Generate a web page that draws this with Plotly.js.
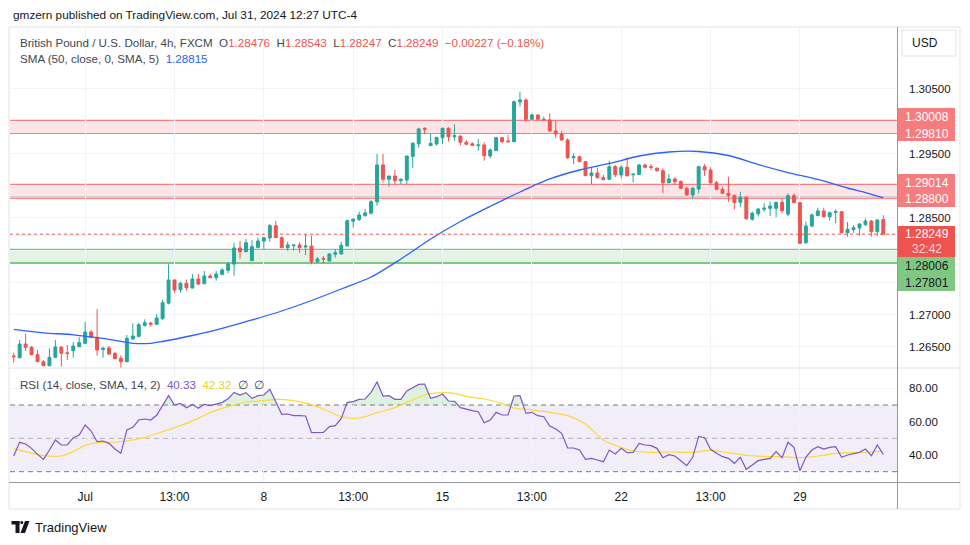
<!DOCTYPE html>
<html><head><meta charset="utf-8">
<script src="https://cdn.plot.ly/plotly-3.0.1.min.js"></script>
<style>html,body{margin:0;padding:0;background:#fff;} #chart{width:970px;height:545px;}</style>
</head><body><div id="chart"></div>
<script>
// ---- DATA ----
const openP = [1.26360,1.26334,1.26546,1.26495,1.26381,1.26272,1.26210,1.26340,1.26500,1.26410,1.26443,1.26505,1.26557,1.26733,1.26650,1.26460,1.26485,1.26400,1.26325,1.26272,1.26625,1.26665,1.26835,1.26872,1.26852,1.26940,1.27180,1.27539,1.27390,1.27488,1.27415,1.27554,1.27481,1.27601,1.27574,1.27625,1.27690,1.27785,1.28035,1.27978,1.27838,1.28045,1.28143,1.28190,1.28381,1.28195,1.28040,1.28071,1.28081,1.28050,1.28066,1.27822,1.27875,1.27833,1.27937,1.27942,1.28066,1.28450,1.28475,1.28536,1.28575,1.28750,1.29322,1.29100,1.29151,1.29078,1.29090,1.29455,1.29650,1.29891,1.29621,1.29647,1.29745,1.29891,1.29760,1.29771,1.29674,1.29650,1.29621,1.29632,1.29461,1.29543,1.29745,1.29694,1.29683,1.30300,1.30329,1.30030,1.30097,1.30030,1.30019,1.29849,1.29802,1.29709,1.29435,1.29450,1.29373,1.29156,1.29198,1.29125,1.29100,1.29295,1.29167,1.29286,1.29170,1.29175,1.29322,1.29295,1.29270,1.29233,1.29047,1.29105,1.29063,1.28960,1.28857,1.28950,1.29295,1.29244,1.29047,1.28945,1.28883,1.28846,1.28743,1.28821,1.28480,1.28565,1.28635,1.28650,1.28650,1.28743,1.28560,1.28846,1.28737,1.28117,1.28376,1.28536,1.28609,1.28520,1.28588,1.28598,1.28272,1.28319,1.28345,1.28400,1.28453,1.28288,1.28476];
const highP = [1.26412,1.26609,1.26702,1.26515,1.26453,1.26298,1.26480,1.26609,1.26505,1.26531,1.26577,1.26650,1.26888,1.26764,1.27089,1.26505,1.26515,1.26422,1.26371,1.26686,1.26867,1.26877,1.26929,1.26888,1.27012,1.27229,1.27782,1.27545,1.27512,1.27545,1.27632,1.27632,1.27678,1.27632,1.27678,1.27725,1.27818,1.28117,1.28143,1.28174,1.28159,1.28195,1.28205,1.28407,1.28453,1.28221,1.28132,1.28085,1.28123,1.28252,1.28226,1.27895,1.27911,1.27953,1.28015,1.28132,1.28474,1.28490,1.28598,1.28640,1.28779,1.29492,1.29492,1.29155,1.29244,1.29116,1.29465,1.29674,1.29900,1.29906,1.29813,1.29755,1.29900,1.29906,1.29953,1.29775,1.29709,1.29674,1.29725,1.29674,1.29581,1.29760,1.29760,1.29787,1.30319,1.30458,1.30356,1.30123,1.30108,1.30071,1.30123,1.30004,1.29849,1.29736,1.29503,1.29466,1.29380,1.29286,1.29280,1.29167,1.29388,1.29322,1.29322,1.29441,1.29185,1.29337,1.29337,1.29337,1.29286,1.29270,1.29182,1.29131,1.29084,1.28985,1.28976,1.29311,1.29337,1.29286,1.29074,1.28985,1.29140,1.28867,1.28908,1.28830,1.28598,1.28650,1.28728,1.28753,1.28753,1.28805,1.28883,1.28883,1.28753,1.28443,1.28573,1.28660,1.28660,1.28598,1.28635,1.28605,1.28438,1.28391,1.28418,1.28495,1.28469,1.28484,1.28543];
const lowP = [1.26257,1.26325,1.26438,1.26371,1.26265,1.26205,1.26200,1.26325,1.26195,1.26298,1.26334,1.26495,1.26546,1.26635,1.26365,1.26334,1.26376,1.26309,1.26159,1.26262,1.26609,1.26650,1.26815,1.26815,1.26841,1.26919,1.27160,1.27342,1.27342,1.27373,1.27404,1.27457,1.27472,1.27570,1.27528,1.27613,1.27643,1.27605,1.27869,1.27968,1.27833,1.28030,1.28004,1.28132,1.28190,1.28035,1.27993,1.27993,1.27962,1.27926,1.27782,1.27807,1.27787,1.27829,1.27884,1.27937,1.28060,1.28350,1.28453,1.28520,1.28557,1.28691,1.29047,1.28985,1.29027,1.29022,1.29027,1.29271,1.29590,1.29798,1.29615,1.29621,1.29643,1.29683,1.29694,1.29627,1.29627,1.29616,1.29543,1.29388,1.29426,1.29540,1.29658,1.29670,1.29674,1.30226,1.29993,1.30015,1.30024,1.30004,1.29838,1.29736,1.29698,1.29415,1.29337,1.29364,1.29151,1.29022,1.29115,1.29085,1.29090,1.29131,1.29115,1.29142,1.29053,1.29162,1.29270,1.29244,1.29218,1.28883,1.29038,1.29012,1.28950,1.28847,1.28790,1.28883,1.29151,1.29012,1.28934,1.28872,1.28753,1.28635,1.28666,1.28470,1.28458,1.28521,1.28598,1.28531,1.28511,1.28573,1.28531,1.28728,1.28097,1.28100,1.28355,1.28531,1.28515,1.28458,1.28418,1.28262,1.28210,1.28272,1.28226,1.28376,1.28210,1.28221,1.28247];
const closeP = [1.26350,1.26546,1.26495,1.26381,1.26272,1.26210,1.26340,1.26500,1.26402,1.26400,1.26515,1.26567,1.26733,1.26650,1.26453,1.26480,1.26391,1.26319,1.26272,1.26635,1.26671,1.26846,1.26877,1.26852,1.26950,1.27187,1.27539,1.27384,1.27488,1.27419,1.27554,1.27477,1.27601,1.27574,1.27632,1.27694,1.27787,1.28035,1.27978,1.28117,1.28055,1.28143,1.28195,1.28381,1.28195,1.28040,1.28081,1.28081,1.28040,1.28066,1.27822,1.27864,1.27862,1.27942,1.27962,1.28077,1.28458,1.28484,1.28547,1.28578,1.28753,1.29322,1.29100,1.29151,1.29078,1.29100,1.29461,1.29658,1.29880,1.29875,1.29658,1.29751,1.29891,1.29760,1.29776,1.29674,1.29643,1.29627,1.29632,1.29466,1.29554,1.29745,1.29683,1.29683,1.30303,1.30329,1.30030,1.30097,1.30030,1.30019,1.29849,1.29802,1.29709,1.29435,1.29450,1.29373,1.29156,1.29198,1.29125,1.29094,1.29295,1.29170,1.29286,1.29156,1.29180,1.29322,1.29286,1.29286,1.29233,1.29047,1.29105,1.29063,1.28960,1.28857,1.28960,1.29295,1.29244,1.29047,1.28945,1.28883,1.28846,1.28737,1.28821,1.28490,1.28573,1.28640,1.28655,1.28686,1.28743,1.28613,1.28846,1.28737,1.28108,1.28376,1.28547,1.28609,1.28520,1.28582,1.28598,1.28272,1.28325,1.28350,1.28407,1.28453,1.28288,1.28469,1.28249];

const smaIdx = [0,5,10,15,20,23,25,30,35,40,45,50,55,60,65,70,75,80,85,90,95,100,105,110,115,120,125,130,135,140,143,146];
const smaVal = [1.26774,1.26720,1.26689,1.26632,1.26557,1.26557,1.26585,1.26678,1.26787,1.26919,1.27058,1.27221,1.27399,1.27585,1.27864,1.28174,1.28446,1.28681,1.28903,1.29105,1.29244,1.29345,1.29461,1.29523,1.29531,1.29469,1.29329,1.29205,1.29097,1.28965,1.28895,1.28815];

const rsi = [39.4,47.6,46.6,44.0,40.4,37.4,43.0,49.0,46.0,46.0,50.4,52.0,58.0,54.4,48.0,48.4,47.0,43.6,41.0,55.0,56.6,61.0,61.6,61.0,63.8,70.0,75.6,70.0,71.0,68.4,70.4,68.0,70.4,69.6,70.4,71.6,73.8,77.6,76.0,77.4,74.0,75.6,76.0,79.4,72.0,64.4,64.6,63.6,63.6,63.4,53.4,53.6,53.6,57.0,57.6,62.0,71.6,72.0,73.4,73.6,77.6,84.0,75.4,75.6,73.4,73.4,78.4,80.4,82.4,82.6,74.0,75.0,76.6,72.4,72.2,68.4,67.4,66.6,66.0,59.4,61.0,65.6,64.0,64.0,75.4,75.6,65.0,65.6,63.6,63.0,57.4,55.6,53.0,44.2,44.2,43.0,37.4,38.0,37.0,36.0,43.0,40.6,44.0,41.4,41.6,47.0,46.0,45.6,44.0,38.4,40.2,39.4,36.6,33.6,38.6,51.2,50.4,43.4,41.0,39.0,38.0,35.0,38.6,31.4,34.0,36.6,37.4,38.0,42.0,38.4,47.6,44.6,30.6,38.6,43.0,45.0,43.6,44.6,45.0,38.6,40.0,40.6,41.6,43.6,39.6,46.0,40.33];

const rsiMaIdx = [0,2,5,8,10,12,14,16,19,22,25,28,31,33,36,39,42,44,47,50,53,55,58,61,64,66,69,72,74,76,79,82,84,87,90,93,96,99,101,104,107,110,114,117,120,123,126,129,132,135,138,141,144,146];
const rsiMaVal = [43.8,42.0,39.6,39.4,42.0,45.8,47.4,47.6,48.4,50.6,54.0,57.6,62.0,65.5,69.0,71.8,72.6,73.4,72.6,70.2,66.0,63.0,62.2,65.4,68.4,71.6,76.0,77.4,77.0,75.2,73.6,71.0,68.2,67.0,65.6,63.6,58.6,49.0,45.8,42.4,41.6,41.8,41.6,42.8,41.4,39.8,39.2,39.0,38.4,39.4,41.0,41.4,41.8,42.32];

const tickIdx = [12,27,42,57,72,87,102,117,132];
const tickText = ['Jul','13:00','8','13:00','15','13:00','22','13:00','29'];
const priceTicks = [1.265,1.270,1.275,1.280,1.285,1.290,1.295,1.300,1.305];
// labels covered by the level boxes on the price scale are not shown
const priceTickText = ['1.26500','1.27000','','','1.28500','','1.29500','','1.30500'];
const rsiTicks = [40,60,80];

const resistanceHi = [1.30008, 1.29810];
const resistanceLo = [1.29014, 1.28800];
const extraLine = 1.28826;
const support = [1.28006, 1.27801];
const lastPrice = 1.28249;
const countdown = '32:42';

// ---- helpers for layout placement (pixels -> paper) ----
const W = 970, H = 545, ML = 10, MR = 73, MT = 27, MB = 63;
const PW = W - ML - MR, PH = H - MT - MB;
const X = p => (p - ML) / PW;
const Y = p => (H - MB - p) / PH;

const FONT = 'Liberation Sans, Arial, sans-serif';
const UP = '#26a69a', DN = '#ef5350';

const idx = closeP.map((_, i) => i);
const rsiAbove = rsi.map(v => Math.max(v, 70));

const traces = [
  {type:'candlestick', x:idx, open:openP, high:highP, low:lowP, close:closeP,
   increasing:{line:{color:UP, width:1}, fillcolor:UP},
   decreasing:{line:{color:DN, width:1}, fillcolor:DN},
   whiskerwidth:0, hoverinfo:'skip', xaxis:'x', yaxis:'y'},
  {type:'scatter', mode:'lines', x:smaIdx, y:smaVal, line:{color:'#2962ff', width:1.3, shape:'spline', smoothing:0.8},
   hoverinfo:'skip', xaxis:'x', yaxis:'y'},
  {type:'scatter', mode:'lines', x:idx, y:idx.map(()=>70), line:{width:0, color:'rgba(0,0,0,0)'}, hoverinfo:'skip', xaxis:'x', yaxis:'y2'},
  {type:'scatter', mode:'lines', x:idx, y:rsiAbove, line:{width:0, color:'rgba(0,0,0,0)'}, fill:'tonexty', fillcolor:'rgba(76,175,80,0.18)', hoverinfo:'skip', xaxis:'x', yaxis:'y2'},
  {type:'scatter', mode:'lines', x:rsiMaIdx, y:rsiMaVal, line:{color:'#fdd835', width:1.2, shape:'spline', smoothing:0.8}, hoverinfo:'skip', xaxis:'x', yaxis:'y2'},
  {type:'scatter', mode:'lines', x:idx, y:rsi, line:{color:'#7e57c2', width:1.2}, hoverinfo:'skip', xaxis:'x', yaxis:'y2'}
];

const RED_LINE = '#f77c80', RED_FILL = 'rgba(242,54,69,0.13)';
const GRN_LINE = '#81c784', GRN_FILL = 'rgba(76,175,80,0.15)';
const FRAME = '#e0e3eb', AXL = '#9598a1';

function hline(yv, color, width, dash, yref, layer) {
  return {type:'line', xref:'paper', x0:0, x1:1, yref:yref||'y', y0:yv, y1:yv,
          line:{color:color, width:width, dash:dash||'solid'}, layer:layer||'between'};
}
const shapes = [
  {type:'rect', xref:'paper', x0:0, x1:1, yref:'y', y0:resistanceHi[1], y1:resistanceHi[0], fillcolor:RED_FILL, line:{width:0}, layer:'between'},
  hline(resistanceHi[0], RED_LINE, 2), hline(resistanceHi[1], RED_LINE, 1),
  {type:'rect', xref:'paper', x0:0, x1:1, yref:'y', y0:resistanceLo[1], y1:resistanceLo[0], fillcolor:RED_FILL, line:{width:0}, layer:'between'},
  hline(resistanceLo[0], RED_LINE, 2), hline(resistanceLo[1], RED_LINE, 1), hline(extraLine, '#b2b5be', 1),
  {type:'rect', xref:'paper', x0:0, x1:1, yref:'y', y0:support[1], y1:support[0], fillcolor:GRN_FILL, line:{width:0}, layer:'between'},
  hline(support[0], GRN_LINE, 2), hline(support[1], GRN_LINE, 2),
  hline(lastPrice, DN, 1, 'dot', 'y', 'above'),
  // RSI band
  {type:'rect', xref:'paper', x0:0, x1:1, yref:'y2', y0:30, y1:70, fillcolor:'rgba(126,87,194,0.1)', line:{width:0}, layer:'between'},
  hline(70, '#787b86', 1, '5px,4px', 'y2'), hline(50, 'rgba(120,123,134,0.5)', 1, '5px,4px', 'y2'), hline(30, '#787b86', 1, '5px,4px', 'y2'),
  // frame
  {type:'line', xref:'paper', yref:'paper', x0:X(9), x1:X(960), y0:Y(27), y1:Y(27), line:{color:FRAME, width:1}, layer:'above'},
  {type:'line', xref:'paper', yref:'paper', x0:X(9), x1:X(9), y0:Y(27), y1:Y(509), line:{color:FRAME, width:1}, layer:'above'},
  {type:'line', xref:'paper', yref:'paper', x0:X(960), x1:X(960), y0:Y(27), y1:Y(509), line:{color:FRAME, width:1}, layer:'above'},
  {type:'line', xref:'paper', yref:'paper', x0:X(9), x1:X(960), y0:Y(509), y1:Y(509), line:{color:FRAME, width:1}, layer:'above'},
  {type:'line', xref:'paper', yref:'paper', x0:X(9), x1:X(960), y0:Y(368), y1:Y(368), line:{color:FRAME, width:1}, layer:'above'},
  {type:'line', xref:'paper', yref:'paper', x0:X(9), x1:X(960), y0:Y(482.5), y1:Y(482.5), line:{color:AXL, width:1}, layer:'above'},
  {type:'line', xref:'paper', yref:'paper', x0:X(897.5), x1:X(897.5), y0:Y(27), y1:Y(509), line:{color:AXL, width:1}, layer:'above'},
  // USD box
  {type:'rect', xref:'paper', yref:'paper', x0:X(902), x1:X(956), y0:Y(30), y1:Y(56), line:{color:FRAME, width:1}, fillcolor:'#fff', layer:'above'},
  // TradingView logo
  {type:'rect', xref:'paper', yref:'paper', x0:X(11.5), x1:X(19.5), y0:Y(521), y1:Y(524.5), fillcolor:'#131722', line:{width:0}, layer:'above'},
  {type:'rect', xref:'paper', yref:'paper', x0:X(15.5), x1:X(19.5), y0:Y(521), y1:Y(533), fillcolor:'#131722', line:{width:0}, layer:'above'},
  {type:'circle', xref:'paper', yref:'paper', x0:X(20.3), x1:X(23.3), y0:Y(521), y1:Y(524), fillcolor:'#131722', line:{width:0}, layer:'above'},
  {type:'path', xref:'paper', yref:'paper', path:`M ${X(25)} ${Y(521)} L ${X(29.5)} ${Y(521)} L ${X(25)} ${Y(533)} L ${X(20.5)} ${Y(533)} Z`, fillcolor:'#131722', line:{width:0}, layer:'above'}
];

const RV = '#f05350';
const sp = '\u00a0\u00a0';
function box(yv, yshift, h, bg) {
  return {xref:'paper', x:X(898), xanchor:'left', yref:'y', y:yv, yanchor:'middle', yshift:yshift,
          text:'\u00a0', showarrow:false, width:57, height:h, bgcolor:bg, borderpad:0, borderwidth:0};
}
function lab(yv, yshift, txt, color) {
  return {xref:'paper', x:X(926.5), xanchor:'center', yref:'y', y:yv, yanchor:'middle', yshift:yshift,
          text:txt, showarrow:false, font:{family:FONT, size:12, color:color}};
}
const annotations = [
  {xref:'paper', yref:'paper', x:X(11), y:Y(15), xanchor:'left', yanchor:'middle', showarrow:false,
   text:'gmzern published on TradingView.com, Jul 31, 2024 12:27 UTC-4', font:{family:FONT, size:11.8, color:'#131722'}},
  {xref:'paper', yref:'paper', x:X(18), y:Y(42), xanchor:'left', yanchor:'middle', showarrow:false,
   text:'British Pound / U.S. Dollar, 4h, FXCM' + sp + 'O<span style="color:'+RV+'">1.28476</span>' + sp +
        'H<span style="color:'+RV+'">1.28543</span>' + sp + 'L<span style="color:'+RV+'">1.28247</span>' + sp +
        'C<span style="color:'+RV+'">1.28249</span>' + sp + '<span style="color:'+RV+'">\u22120.00227 (\u22120.18%)</span>',
   font:{family:FONT, size:11.6, color:'#434651'}},
  {xref:'paper', yref:'paper', x:X(18), y:Y(59), xanchor:'left', yanchor:'middle', showarrow:false,
   text:'SMA (50, close, 0, SMA, 5)' + sp + '<span style="color:#2962ff">1.28815</span>',
   font:{family:FONT, size:11.6, color:'#434651'}},
  {xref:'paper', yref:'paper', x:X(18), y:Y(384.5), xanchor:'left', yanchor:'middle', showarrow:false,
   text:'RSI (14, close, SMA, 14, 2)' + sp + '<span style="color:#7e57c2">40.33</span>' + sp +
        '<span style="color:#f2d21f">42.32</span>' + sp + '\u2205' + sp + '\u2205',
   font:{family:FONT, size:11.6, color:'#434651'}},
  {xref:'paper', yref:'paper', x:X(910), y:Y(43.5), xanchor:'left', yanchor:'middle', showarrow:false,
   text:'USD', font:{family:FONT, size:12, color:'#131722'}},
  {xref:'paper', yref:'paper', x:X(33), y:Y(527), xanchor:'left', yanchor:'middle', showarrow:false,
   text:'TradingView', font:{family:FONT, size:13, color:'#131722'}},
  box((resistanceHi[0]+resistanceHi[1])/2, 2.4, 33, RED_LINE),
  lab(resistanceHi[0], 4, resistanceHi[0].toFixed(5), '#fff'),
  lab(resistanceHi[1], -0.8, resistanceHi[1].toFixed(5), '#fff'),
  box((resistanceLo[0]+resistanceLo[1])/2, 1, 33, RED_LINE),
  lab(resistanceLo[0], 1.8, resistanceLo[0].toFixed(5), '#fff'),
  lab(resistanceLo[1], -0.6, resistanceLo[1].toFixed(5), '#fff'),
  box(lastPrice, -7, 31, DN),
  lab(lastPrice, 0, lastPrice.toFixed(5), '#fff'),
  lab(lastPrice, -14.5, countdown, '#fdd7d7'),
  box((support[0]+support[1])/2, -17.5, 33.5, GRN_LINE),
  lab(support[0], -15.8, support[0].toFixed(5), '#131722'),
  lab(support[1], -19.6, support[1].toFixed(5), '#131722')
];

const layout = {
  width:W, height:H, margin:{l:ML, r:MR, t:MT, b:MB, pad:0},
  paper_bgcolor:'#fff', plot_bgcolor:'#fff', showlegend:false, dragmode:false,
  font:{family:FONT, size:12, color:'#131722'},
  xaxis:{range:[-0.62, 148.3], tickmode:'array', tickvals:tickIdx, ticktext:tickText, showgrid:true, gridcolor:'#f0f3fa',
         zeroline:false, showline:false, ticks:'', anchor:'y2', rangeslider:{visible:false}, fixedrange:true,
         tickfont:{family:FONT, size:12, color:'#131722'}, ticklabelstandoff:6},
  yaxis:{domain:[0.2505, 1], range:[1.26174, 1.31461], side:'right', tickmode:'array', tickvals:priceTicks,
         ticktext:priceTickText, showgrid:true, gridcolor:'#f0f3fa', zeroline:false, showline:false,
         ticks:'', ticklabelstandoff:11, tickfont:{family:FONT, size:11.5, color:'#131722'}, fixedrange:true},
  yaxis2:{domain:[0, 0.2505], range:[23.8, 92.2], side:'right', tickmode:'array', tickvals:rsiTicks,
         ticktext:rsiTicks.map(v => v.toFixed(2)), showgrid:true, gridcolor:'#f0f3fa', zeroline:false, showline:false,
         ticks:'', ticklabelstandoff:11, tickfont:{family:FONT, size:11.5, color:'#131722'}, fixedrange:true},
  shapes:shapes, annotations:annotations
};

Plotly.newPlot('chart', traces, layout, {staticPlot:true, displayModeBar:false});
</script>
</body></html>
